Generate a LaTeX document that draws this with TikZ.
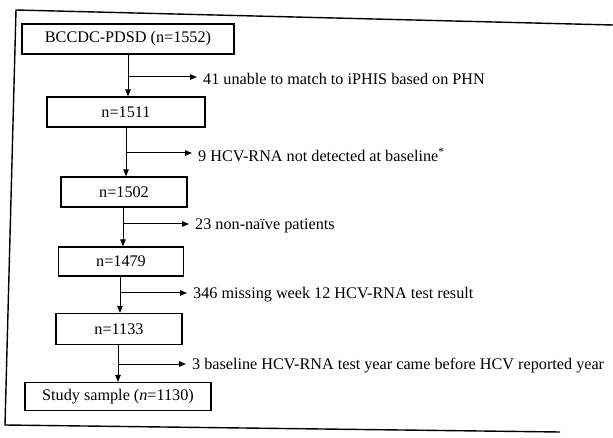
\documentclass[tikz,border=0pt]{standalone}
\usepackage{fontspec}
\setmainfont{Liberation Serif}
\usetikzlibrary{arrows.meta}

\tikzset{
  stagebox/.style={draw, line width=1.2pt, inner sep=0pt,
    font=\fontsize{16.2}{19}\selectfont},
  droptext/.style={anchor=west, inner sep=0pt,
    font=\fontsize{16.2}{19}\selectfont},
  flow/.style={line width=1pt, -{Triangle[length=7pt,width=5.5pt]}},
}

\begin{document}
\begin{tikzpicture}[x=1pt,y=-1pt]
\useasboundingbox (0,0) rectangle (613,438);

	% outer frame, scanned slightly askew
	\draw[line width=1.4pt] (613,25) -- (16,10) -- (5,425) -- (560,432);

	% stages
	\node[stagebox, minimum width=212pt, minimum height=30pt] (s0) at (128,39) {BCCDC-PDSD (n=1552)};
	\node[stagebox, minimum width=158pt, minimum height=30pt] (s1) at (126,112) {n=1511};
	\node[stagebox, minimum width=126pt, minimum height=30pt] (s2) at (124,192) {n=1502};
	\node[stagebox, minimum width=125pt, minimum height=29pt] (s3) at (121,261.5) {n=1479};
	\node[stagebox, minimum width=126pt, minimum height=31pt] (s4) at (119,329) {n=1133};
	\node[stagebox, minimum width=186pt, minimum height=28pt] (s5) at (118,396.5) {Study sample (\textit{n}=1130)};

	% exclusions
	\node[droptext] (e0) at (203,79) {41 unable to match to iPHIS based on PHN};
	\node[droptext] (e1) at (198,155) {9 HCV-RNA not detected at baseline\textsuperscript{*}};
	\node[droptext] (e2) at (195,226) {23 non-naïve patients};
	\node[droptext] (e3) at (193,295) {346 missing week 12 HCV-RNA test result};
	\node[droptext] (e4) at (192,366) {3 baseline HCV-RNA test year came before HCV reported year};

	% trunk positions
	\coordinate (t0) at (128,0);
	\coordinate (t1) at (126,0);
	\coordinate (t2) at (123,0);
	\coordinate (t3) at (120,0);
	\coordinate (t4) at (118,0);

	\draw[flow] (s0.south -| t0) -- (s1.north -| t0);
	\draw[flow] (s1.south -| t1) -- (s2.north -| t1);
	\draw[flow] (s2.south -| t2) -- (s3.north -| t2);
	\draw[flow] (s3.south -| t3) -- (s4.north -| t3);
	\draw[flow] (s4.south -| t4) -- (s5.north -| t4);

	\draw[flow] (t0 |- 0,77) -- ([xshift=-6pt]e0.west |- 0,77);
	\draw[flow] (t1 |- 0,153) -- ([xshift=-6pt]e1.west |- 0,153);
	\draw[flow] (t2 |- 0,224) -- ([xshift=-6pt]e2.west |- 0,224);
	\draw[flow] (t3 |- 0,293) -- ([xshift=-6pt]e3.west |- 0,293);
	\draw[flow] (t4 |- 0,364) -- ([xshift=-6pt]e4.west |- 0,364);

\end{tikzpicture}
\end{document}
